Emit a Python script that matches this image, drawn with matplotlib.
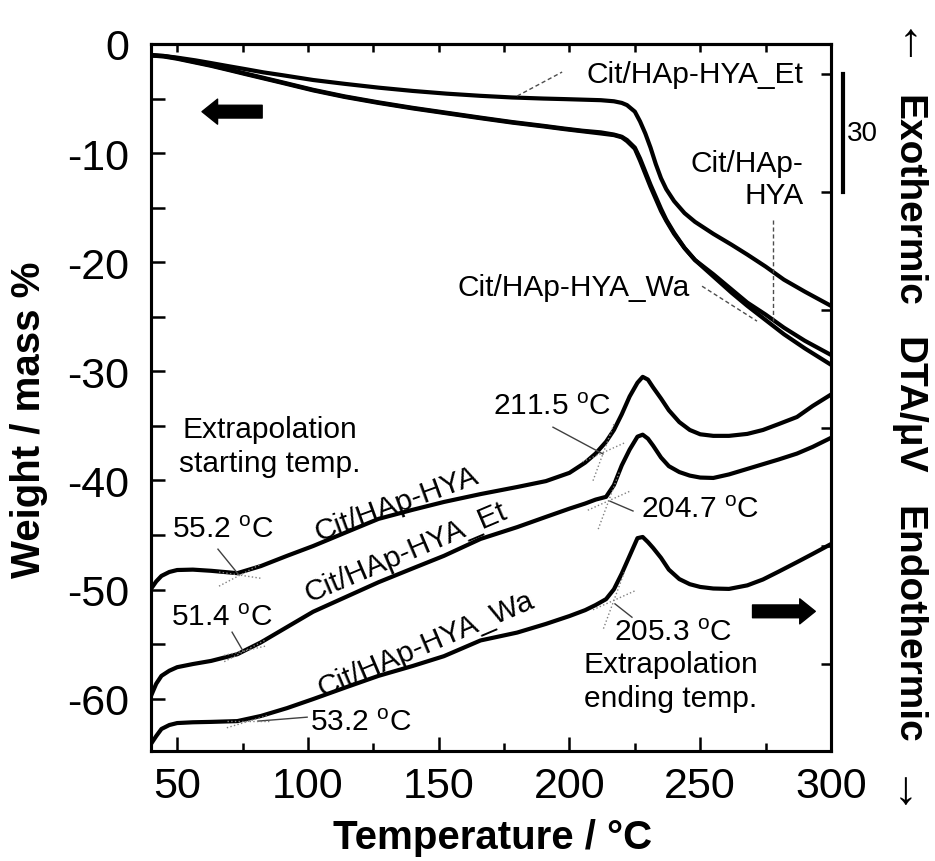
import matplotlib
matplotlib.use("Agg")
import matplotlib.pyplot as plt
from matplotlib.patches import FancyArrowPatch
from matplotlib.transforms import blended_transform_factory

plt.rcParams['font.family'] = ['Liberation Sans', 'DejaVu Sans']
plt.rcParams['mathtext.default'] = 'regular'
plt.rcParams['axes.unicode_minus'] = False

# TG curves (weight loss, left axis)
temp_tg = [40, 45, 50, 57, 63, 70, 76, 83, 90, 102, 114, 127, 140, 153, 166, 178, 190,
           198, 205, 212, 217, 220, 222, 225, 227, 229, 231, 233, 235, 237, 240, 244,
           248, 255, 262, 268, 275, 282, 290, 300]
tg_hya_et = [-1.05, -1.1, -1.25, -1.5, -1.75, -2.05, -2.3, -2.6, -2.85, -3.3, -3.65, -4.0,
             -4.3, -4.55, -4.75, -4.9, -5.0, -5.05, -5.1, -5.15, -5.25, -5.4, -5.6, -6.2,
             -7.1, -8.2, -9.5, -11.0, -12.3, -13.3, -14.4, -15.5, -16.3, -17.4, -18.4,
             -19.3, -20.4, -21.6, -22.7, -24.0]
tg_hya = [-1.05, -1.15, -1.35, -1.7, -2.0, -2.4, -2.75, -3.15, -3.55, -4.25, -4.85, -5.4,
          -5.9, -6.35, -6.8, -7.2, -7.55, -7.8, -8.0, -8.2, -8.35, -8.55, -8.9, -9.6,
          -10.7, -11.9, -13.1, -14.2, -15.3, -16.2, -17.4, -18.7, -19.8, -21.1, -22.5,
          -23.7, -24.8, -26.0, -27.2, -28.5]
tg_hya_wa = [-1.0, -1.1, -1.3, -1.65, -1.95, -2.35, -2.7, -3.1, -3.5, -4.2, -4.8, -5.35,
             -5.85, -6.3, -6.75, -7.15, -7.5, -7.75, -7.95, -8.1, -8.3, -8.5, -8.8, -9.5,
             -10.5, -11.7, -12.9, -14.0, -15.1, -16.1, -17.3, -18.7, -19.8, -21.3, -22.8,
             -24.0, -25.3, -26.6, -27.9, -29.4]

# DTA curves (uV, right axis, arbitrary offsets)
temp_dta = [40, 42, 44, 47, 50, 56, 63, 73, 82, 92, 102, 115, 127, 140, 152, 166, 180,
            191, 200, 206, 210, 214, 217, 220, 223, 226, 228, 230, 232, 235, 238, 242,
            246, 250, 255, 261, 268, 274, 280, 287, 293, 300]
dta_hya = [19.1, 21.0, 22.4, 23.4, 23.9, 24.0, 23.7, 23.1, 24.9, 27.5, 30.0, 33.6, 36.9,
           39.2, 41.2, 43.2, 45.0, 46.5, 48.6, 51.2, 53.5, 56.5, 59.5, 63.5, 68.0, 71.5,
           73.0, 72.3, 70.3, 67.5, 64.5, 61.5, 59.5, 58.4, 58.0, 58.0, 58.5, 59.5, 61.0,
           62.8, 65.6, 68.5]
dta_hya_et = [-8.1, -5.0, -3.0, -1.7, -0.8, 0.0, 0.8, 2.5, 5.5, 9.4, 13.3, 17.2, 20.8,
              24.3, 27.5, 31.8, 34.8, 37.4, 39.5, 40.8, 41.8, 42.5, 45.5, 50.5, 54.5,
              57.8, 58.3, 57.3, 55.5, 52.5, 50.3, 48.8, 47.9, 47.4, 47.3, 48.2, 49.6,
              50.8, 52.0, 53.5, 55.2, 57.5]
dta_hya_wa = [-20.3, -18.3, -16.5, -15.5, -15.0, -14.8, -14.7, -14.5, -13.2, -11.2, -8.9,
              -5.8, -3.0, -0.5, 2.0, 6.0, 8.0, 10.2, 12.2, 13.7, 15.0, 16.5, 19.0, 23.0,
              27.5, 32.0, 32.3, 31.0, 29.5, 27.0, 24.0, 21.6, 20.3, 19.6, 19.2, 19.1,
              20.0, 21.5, 23.5, 25.9, 28.0, 30.5]

# extrapolation points: temperature, DTA value, baseline slope, onset slope
onsets = [(74, 22.6, -0.1, 0.35), (76, 3.4, 0.15, 0.35), (77, -14.6, 0.0, 0.2),
          (213, 53.8, 0.3, 1.8), (215, 41.5, 0.3, 1.8), (217, 16.2, 0.3, 1.8)]

fig = plt.figure(figsize=(9.35, 8.62), dpi=100)
ax = fig.add_axes([151 / 935, 110 / 862, 680 / 935, 707 / 862])
ax2 = ax.twinx()

for w in (tg_hya_et, tg_hya, tg_hya_wa):
    ax.plot(temp_tg, w, color='k', lw=3)
for d in (dta_hya, dta_hya_et, dta_hya_wa):
    ax2.plot(temp_dta, d, color='k', lw=3)

ax.set_xlim(40, 300)
ax.set_ylim(-64.8, 0)
ax2.set_ylim(-22.1, 157.6)

ax.set_xticks(range(50, 301, 50))
ax.set_xticks(range(75, 300, 50), minor=True)
ax.set_yticks(range(-60, 1, 10))
ax.set_yticks(range(-55, 0, 10), minor=True)
ax.tick_params(axis='both', which='both', direction='in', width=1.8, labelsize=31)
ax.tick_params(axis='x', which='major', length=10, pad=11)
ax.tick_params(axis='x', which='minor', length=6)
ax.tick_params(axis='y', which='both', length=10, pad=16)
ax2.set_yticks(range(0, 151, 30))
ax2.tick_params(direction='in', length=7, width=1.8, labelright=False)
top = ax.secondary_xaxis('top')
top.set_xticks(range(50, 301, 25))
top.set_xticklabels([])
top.tick_params(direction='in', length=6, width=1.8)
for a in (ax, ax2, top):
    for s in a.spines.values():
        s.set_linewidth(2.2)

fig.text(29 / 935, 1 - 420 / 862, 'Weight / mass %', rotation=90, ha='center',
         va='center', fontsize=29, fontweight='bold')
fig.text(493 / 935, 1 - 838 / 862, 'Temperature / °C', ha='center', va='center',
         fontsize=29, fontweight='bold')
for txt, yc in [('Exothermic', 201), ('DTA/μV', 406), ('Endothermic', 625)]:
    fig.text(907 / 935, 1 - yc / 862, txt, rotation=-90, ha='center', va='center',
             fontsize=28, fontweight='bold')
fig.text(910 / 935, 1 - 44 / 862, '↑', ha='center', va='center', fontsize=34)
fig.text(905 / 935, 1 - 792 / 862, '↓', ha='center', va='center', fontsize=34)

# scale bar for DTA
bt = blended_transform_factory(ax2.transAxes, ax2.transData)
ax2.plot([1.018, 1.018], [120, 150], color='k', lw=3, transform=bt, clip_on=False)
ax2.text(1.024, 135, '30', transform=bt, ha='left', va='center', fontsize=20)

# big arrows
arrow_style = 'simple,head_length=0.28,head_width=0.45,tail_width=0.23'
for tail, head in [((82.5, -6.2), (59.5, -6.2)), ((270, -52.0), (294, -52.0))]:
    ax.add_patch(FancyArrowPatch(tail, head, arrowstyle=arrow_style, mutation_scale=40,
                                 color='k', shrinkA=0, shrinkB=0))

# TG labels
fs = 21.5
ax.text(289.5, -2.75, 'Cit/HAp-HYA_Et', ha='right', va='center', fontsize=fs)
ax.plot([180, 197.2], [-4.77, -2.57], color='0.3', lw=1, ls=(0, (3, 2)))
ax.text(289.5, -12.4, 'Cit/HAp-\nHYA', ha='right', va='center', fontsize=fs,
        multialignment='right', linespacing=1.2)
ax.plot([277.9, 277.9], [-16.1, -25.4], color='0.3', lw=1, ls=(0, (3, 2)))
ax.text(246.1, -22.3, 'Cit/HAp-HYA_Wa', ha='right', va='center', fontsize=fs)
ax.plot([250.7, 271.7], [-22.2, -25.4], color='0.3', lw=1, ls=(0, (3, 2)))

# DTA labels
ax2.text(133.7, 40.7, 'Cit/HAp-HYA', rotation=20, ha='center', va='center',
         rotation_mode='anchor', fontsize=fs)
ax2.text(137.5, 28.5, 'Cit/HAp-HYA_Et', rotation=23, ha='center', va='center',
         rotation_mode='anchor', fontsize=fs)
ax2.text(145.2, 5.1, 'Cit/HAp-HYA_Wa', rotation=23, ha='center', va='center',
         rotation_mode='anchor', fontsize=fs)

ax2.text(85.5, 55.4, 'Extrapolation\nstarting temp.', ha='center', va='center',
         fontsize=fs, linespacing=1.25)
ax2.text(238.8, -4.3, 'Extrapolation\nending temp.', ha='center', va='center',
         fontsize=fs, linespacing=1.25)

deg = r' $\mathregular{^o}$C'
labels = [('55.2', (67.5, 34.3), 'center', [(65.6, 29.2), (73.3, 22.9)]),
          ('51.4', (67.2, 11.9), 'center', [(71.0, 8.1), (75.2, 3.3)]),
          ('53.2', (100.8, -14.7), 'left', [(99.7, -13.5), (80.9, -14.5)]),
          ('211.5', (193.3, 65.6), 'center', [(193.7, 60.2), (212.8, 53.4)]),
          ('204.7', (250.0, 39.4), 'center', [(224.3, 38.9), (215.5, 41.4)]),
          ('205.3', (239.6, 8.1), 'center', [(223.9, 11.9), (217.4, 15.3)])]
for val, (tx, ty), ha, ((x0, y0), (x1, y1)) in labels:
    ax2.text(tx, ty, val + deg, ha=ha, va='center', fontsize=fs)
    ax2.plot([x0, x1], [y0, y1], color='0.25', lw=1)

for tx, ty, s_base, s_rise in onsets:
    ax2.plot([tx - 8, tx + 8], [ty - 8 * s_base, ty + 8 * s_base], color='0.5', lw=1,
             ls=':')
    dx = 4 if s_rise > 1 else 8
    ax2.plot([tx - dx, tx + dx], [ty - dx * s_rise, ty + dx * s_rise], color='0.5', lw=1,
             ls=':')

fig.savefig('out.png', dpi=100)
